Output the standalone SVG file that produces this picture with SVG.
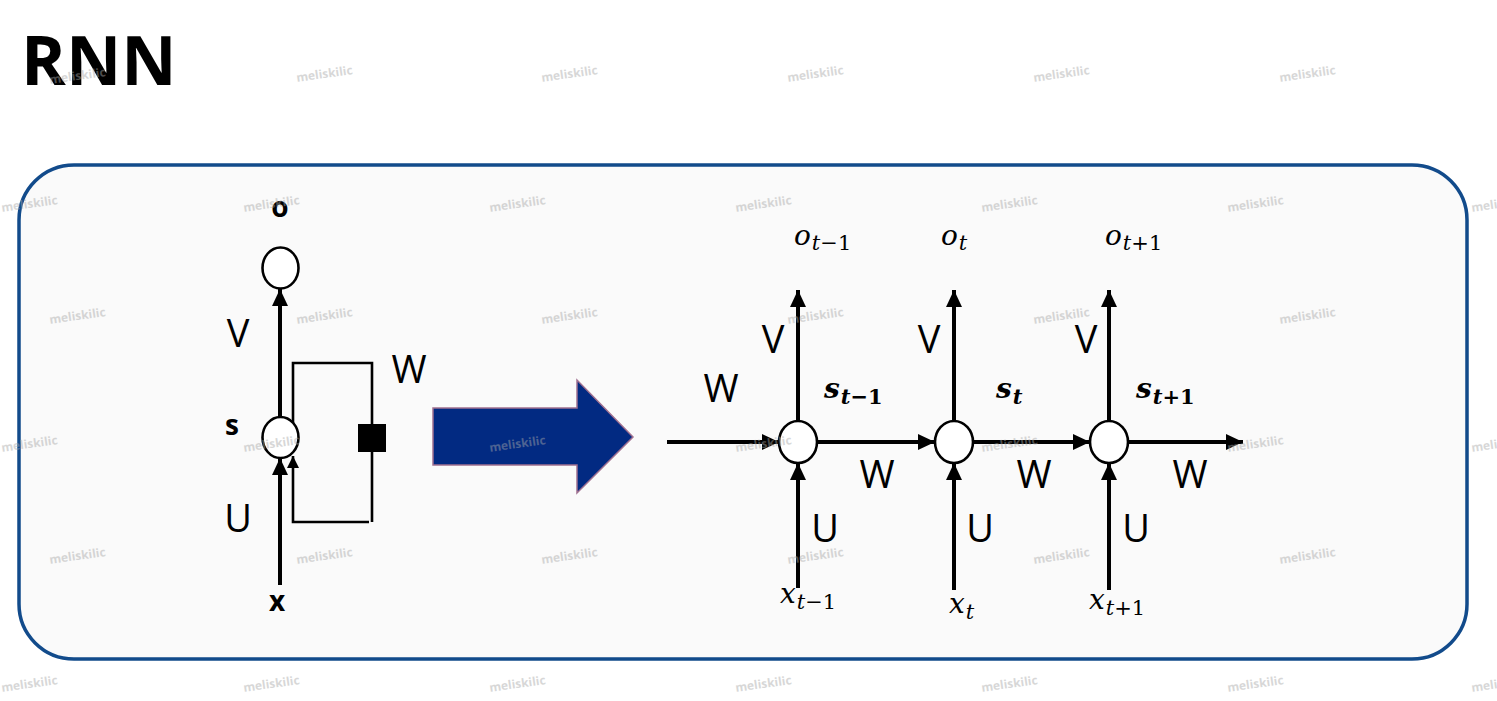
<svg xmlns="http://www.w3.org/2000/svg" width="1497" height="701" viewBox="0 0 1497 701">
<defs>
<marker id="ah" markerUnits="userSpaceOnUse" markerWidth="20" markerHeight="18" refX="17" refY="8" orient="auto"><path d="M0,0 L17,8 L0,16 Z" fill="#000"/></marker>
<marker id="ahs" markerUnits="userSpaceOnUse" markerWidth="14" markerHeight="12" refX="12" refY="6" orient="auto"><path d="M0,0 L12,6 L0,12 Z" fill="#000"/></marker>
</defs>
<style>
.lbl{font-family:"Open Sans","Noto Sans",sans-serif;font-size:38px;fill:#000}
.blbl{font-family:"Open Sans","Noto Sans",sans-serif;font-size:28px;font-weight:bold;fill:#000}
.m{font-family:"DejaVu Serif","Liberation Serif",serif;font-style:italic;font-size:28px;fill:#000}
.ms{font-family:"DejaVu Serif","Liberation Serif",serif;font-style:italic;font-size:21px;fill:#000}
.up{font-style:normal}
.mb{font-weight:bold}
.thick{stroke:#000;stroke-width:4;fill:none}
.thin{stroke:#000;stroke-width:2.6;fill:none}
.node{fill:#fff;stroke:#000;stroke-width:2.6}
.wm{font-family:"Open Sans","Noto Sans",sans-serif;font-size:12px;font-weight:bold;fill:#a8a8a8;opacity:0.45}
</style>
<rect width="1497" height="701" fill="#fff"/>
<text x="21" y="85" font-family="Open Sans,Noto Sans,sans-serif" font-size="68" font-weight="bold" fill="#000">RNN</text>
<rect id="panel" x="19" y="165" width="1448" height="494" rx="55" ry="55" fill="#fafafa" stroke="#124b8b" stroke-width="3.5"/>

<g id="connectors">
<line class="thick" x1="280" y1="585" x2="280" y2="458" marker-end="url(#ah)"/>
<line class="thick" x1="280" y1="417" x2="280" y2="289" marker-end="url(#ah)"/>
<polyline class="thin" points="293,437 293,363 372,363 372,522"/>
<polyline class="thin" points="369,522 293,522 293,456" marker-end="url(#ahs)"/>
<line class="thick" x1="667" y1="442" x2="779" y2="442" marker-end="url(#ah)"/>
<line class="thick" x1="817" y1="442" x2="935" y2="442" marker-end="url(#ah)"/>
<line class="thick" x1="973" y1="442" x2="1090" y2="442" marker-end="url(#ah)"/>
<line class="thick" x1="1128" y1="442" x2="1243" y2="442" marker-end="url(#ah)"/>
<line class="thick" x1="798" y1="421" x2="798" y2="290" marker-end="url(#ah)"/>
<line class="thick" x1="954" y1="421" x2="954" y2="290" marker-end="url(#ah)"/>
<line class="thick" x1="1109" y1="421" x2="1109" y2="290" marker-end="url(#ah)"/>
<line class="thick" x1="798" y1="588" x2="798" y2="463" marker-end="url(#ah)"/>
<line class="thick" x1="954" y1="590" x2="954" y2="463" marker-end="url(#ah)"/>
<line class="thick" x1="1109" y1="590" x2="1109" y2="463" marker-end="url(#ah)"/>
</g>

<g id="node-o"><ellipse class="node" cx="280.5" cy="268" rx="18" ry="20.5"/><text class="blbl" x="280" y="217" text-anchor="middle">o</text></g>
<g id="node-s"><ellipse class="node" cx="280.5" cy="437.5" rx="18" ry="20.5"/><text class="blbl" x="232" y="435" text-anchor="middle">s</text></g>
<g id="delay"><rect x="358" y="424" width="28" height="28" fill="#000"/></g>
<g id="left-labels">
<text class="lbl" x="238" y="347" text-anchor="middle">V</text>
<text class="lbl" x="409" y="383" text-anchor="middle">W</text>
<text class="lbl" x="238" y="532" text-anchor="middle">U</text>
<text class="blbl" x="277" y="611" text-anchor="middle">x</text>
</g>

<g id="unfold-arrow"><path d="M433,408 L577,408 L577,380 L633,437 L577,493 L577,465 L433,465 Z" fill="#022a82" stroke="#a07090" stroke-width="1.5"/></g>

<g id="node-t-1"><ellipse class="node" cx="798" cy="442" rx="19" ry="21"/></g>
<g id="node-t"><ellipse class="node" cx="954" cy="442" rx="19" ry="21"/></g>
<g id="node-t+1"><ellipse class="node" cx="1109" cy="442" rx="19" ry="21"/></g>

<g id="right-labels">
<text class="m" x="794" y="245">o<tspan class="ms" dx="1" dy="5">t<tspan class="up">−1</tspan></tspan></text>
<text class="m" x="941" y="245">o<tspan class="ms" dx="1" dy="5">t</tspan></text>
<text class="m" x="1105" y="245">o<tspan class="ms" dx="1" dy="5">t<tspan class="up">+1</tspan></tspan></text>
<text class="m mb" x="824" y="398">s<tspan class="ms mb" dx="1" dy="6">t<tspan class="up">−1</tspan></tspan></text>
<text class="m mb" x="996" y="398">s<tspan class="ms mb" dx="1" dy="6">t</tspan></text>
<text class="m mb" x="1136" y="398">s<tspan class="ms mb" dx="1" dy="6">t<tspan class="up">+1</tspan></tspan></text>
<text class="m" x="780" y="603">x<tspan class="ms" dx="1" dy="6">t<tspan class="up">−1</tspan></tspan></text>
<text class="m" x="949" y="613">x<tspan class="ms" dx="1" dy="6">t</tspan></text>
<text class="m" x="1089" y="609">x<tspan class="ms" dx="1" dy="6">t<tspan class="up">+1</tspan></tspan></text>
<text class="lbl" x="773" y="353" text-anchor="middle">V</text>
<text class="lbl" x="929" y="353" text-anchor="middle">V</text>
<text class="lbl" x="1086" y="353" text-anchor="middle">V</text>
<text class="lbl" x="721" y="402" text-anchor="middle">W</text>
<text class="lbl" x="877" y="488" text-anchor="middle">W</text>
<text class="lbl" x="1034" y="488" text-anchor="middle">W</text>
<text class="lbl" x="1190" y="488" text-anchor="middle">W</text>
<text class="lbl" x="825" y="542" text-anchor="middle">U</text>
<text class="lbl" x="980" y="542" text-anchor="middle">U</text>
<text class="lbl" x="1136" y="542" text-anchor="middle">U</text>
</g>

<g id="watermarks">
<text class="wm" transform="translate(78,80) rotate(-8)" text-anchor="middle">meliskilic</text>
<text class="wm" transform="translate(325,78) rotate(-8)" text-anchor="middle">meliskilic</text>
<text class="wm" transform="translate(570,78) rotate(-8)" text-anchor="middle">meliskilic</text>
<text class="wm" transform="translate(816,78) rotate(-8)" text-anchor="middle">meliskilic</text>
<text class="wm" transform="translate(1062,78) rotate(-8)" text-anchor="middle">meliskilic</text>
<text class="wm" transform="translate(1308,78) rotate(-8)" text-anchor="middle">meliskilic</text>
<text class="wm" transform="translate(30,208) rotate(-8)" text-anchor="middle">meliskilic</text>
<text class="wm" transform="translate(272,208) rotate(-8)" text-anchor="middle">meliskilic</text>
<text class="wm" transform="translate(518,208) rotate(-8)" text-anchor="middle">meliskilic</text>
<text class="wm" transform="translate(764,208) rotate(-8)" text-anchor="middle">meliskilic</text>
<text class="wm" transform="translate(1010,208) rotate(-8)" text-anchor="middle">meliskilic</text>
<text class="wm" transform="translate(1256,208) rotate(-8)" text-anchor="middle">meliskilic</text>
<text class="wm" transform="translate(1500,208) rotate(-8)" text-anchor="middle">meliskilic</text>
<text class="wm" transform="translate(78,320) rotate(-8)" text-anchor="middle">meliskilic</text>
<text class="wm" transform="translate(325,320) rotate(-8)" text-anchor="middle">meliskilic</text>
<text class="wm" transform="translate(570,320) rotate(-8)" text-anchor="middle">meliskilic</text>
<text class="wm" transform="translate(816,320) rotate(-8)" text-anchor="middle">meliskilic</text>
<text class="wm" transform="translate(1062,320) rotate(-8)" text-anchor="middle">meliskilic</text>
<text class="wm" transform="translate(1308,320) rotate(-8)" text-anchor="middle">meliskilic</text>
<text class="wm" transform="translate(30,448) rotate(-8)" text-anchor="middle">meliskilic</text>
<text class="wm" transform="translate(272,448) rotate(-8)" text-anchor="middle">meliskilic</text>
<text class="wm" transform="translate(518,448) rotate(-8)" text-anchor="middle">meliskilic</text>
<text class="wm" transform="translate(764,448) rotate(-8)" text-anchor="middle">meliskilic</text>
<text class="wm" transform="translate(1010,448) rotate(-8)" text-anchor="middle">meliskilic</text>
<text class="wm" transform="translate(1256,448) rotate(-8)" text-anchor="middle">meliskilic</text>
<text class="wm" transform="translate(1500,448) rotate(-8)" text-anchor="middle">meliskilic</text>
<text class="wm" transform="translate(78,560) rotate(-8)" text-anchor="middle">meliskilic</text>
<text class="wm" transform="translate(325,560) rotate(-8)" text-anchor="middle">meliskilic</text>
<text class="wm" transform="translate(570,560) rotate(-8)" text-anchor="middle">meliskilic</text>
<text class="wm" transform="translate(816,560) rotate(-8)" text-anchor="middle">meliskilic</text>
<text class="wm" transform="translate(1062,560) rotate(-8)" text-anchor="middle">meliskilic</text>
<text class="wm" transform="translate(1308,560) rotate(-8)" text-anchor="middle">meliskilic</text>
<text class="wm" transform="translate(30,688) rotate(-8)" text-anchor="middle">meliskilic</text>
<text class="wm" transform="translate(272,688) rotate(-8)" text-anchor="middle">meliskilic</text>
<text class="wm" transform="translate(518,688) rotate(-8)" text-anchor="middle">meliskilic</text>
<text class="wm" transform="translate(764,688) rotate(-8)" text-anchor="middle">meliskilic</text>
<text class="wm" transform="translate(1010,688) rotate(-8)" text-anchor="middle">meliskilic</text>
<text class="wm" transform="translate(1256,688) rotate(-8)" text-anchor="middle">meliskilic</text>
<text class="wm" transform="translate(1500,688) rotate(-8)" text-anchor="middle">meliskilic</text>
</g>
</svg>
